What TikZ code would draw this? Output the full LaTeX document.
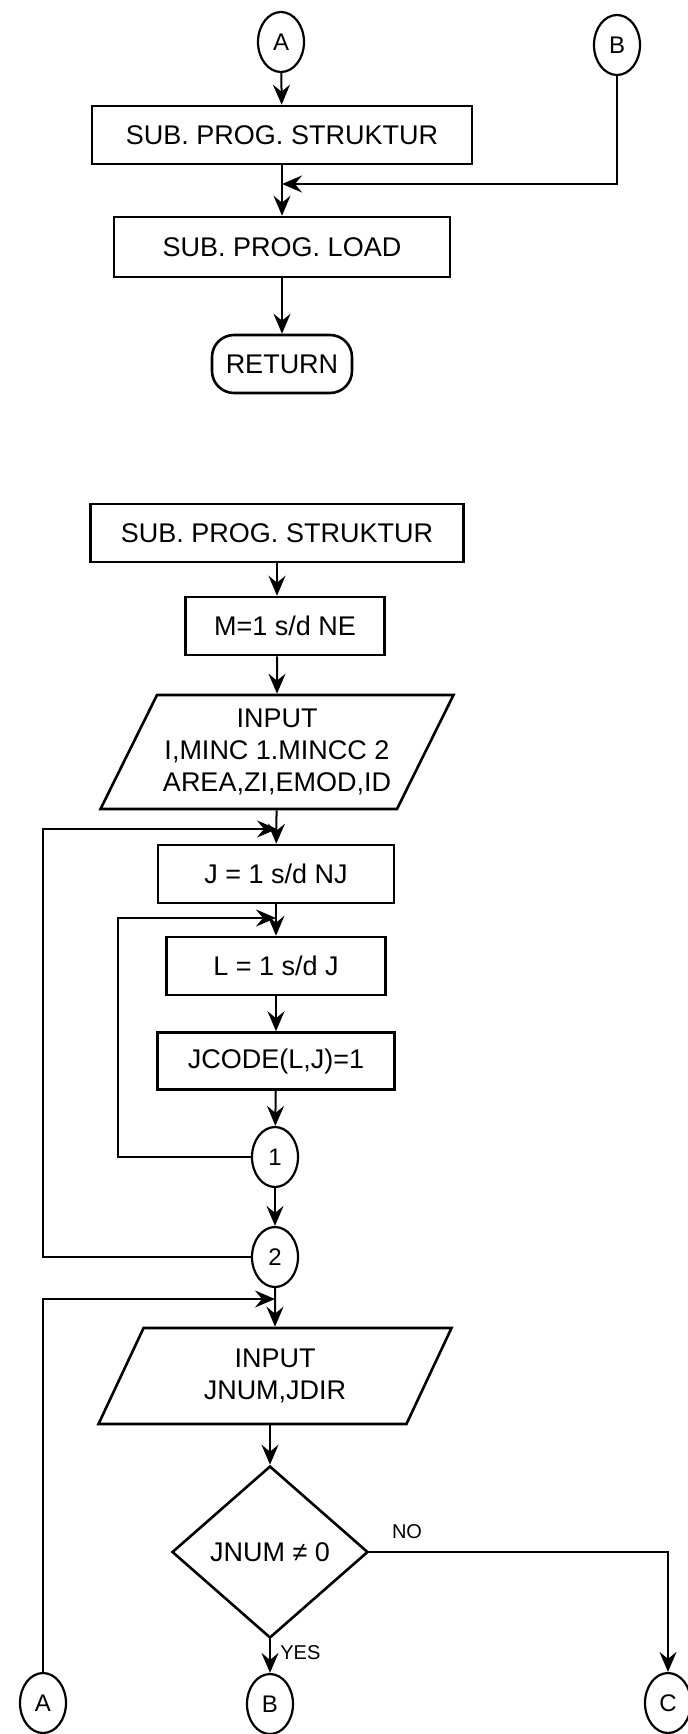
\documentclass[tikz,border=0pt]{standalone}
\usepackage{fontspec}
\setmainfont{Liberation Sans}
\usetikzlibrary{arrows.meta,shapes.geometric}

\begin{document}
\begin{tikzpicture}[x=0.5pt,y=-0.5pt,>={Stealth[length=10pt,width=8.5pt,inset=3.5pt]},
  caja/.style={draw,line width=1.3pt,minimum height=29pt,inner sep=2pt,font=\fontsize{13.5}{16}\selectfont},
  conector/.style={draw,ellipse,line width=1.1pt,minimum width=23pt,minimum height=30pt,inner sep=0pt,font=\fontsize{12}{14}\selectfont},
  entrada/.style={draw,trapezium,trapezium stretches body,line width=1.3pt,align=center,inner sep=2pt,font=\fontsize{13.5}{16}\selectfont},
  decision/.style={draw,diamond,line width=1.3pt,minimum width=98pt,minimum height=86pt,inner sep=0pt,font=\fontsize{13.5}{16}\selectfont},
  etiq/.style={font=\fontsize{10}{12}\selectfont,inner sep=1pt},
  flecha/.style={->,line width=1pt}]
  \useasboundingbox (0,0) rectangle (688,1734);
  % bloque principal
  \node[conector] (A1) at (281,42) {A};
  \node[conector] (B1) at (617,45) {B};
  \node[caja,minimum width=190pt] (S1) at (282,135) {SUB. PROG. STRUKTUR};
  \node[caja,minimum width=168pt,minimum height=30pt] (L1) at (282,247) {SUB. PROG. LOAD};
  \node[caja,minimum width=70pt,rounded corners=11pt] (R1) at (282,364) {RETURN};
  \coordinate (j1) at (282,184);
  \draw[flecha] (A1) -- (S1);
  \draw[flecha] (S1) -- (L1);
  \draw[flecha] (B1) |- (j1);
  \draw[flecha] (L1) -- (R1);
  % sub programa struktur
  \node[caja,minimum width=186.5pt] (S2) at (277,533) {SUB. PROG. STRUKTUR};
  \node[caja,minimum width=99.5pt] (M) at (285,626) {M=1 s/d NE};
  \node[entrada,trapezium left angle=59,trapezium right angle=121,minimum width=176.5pt,minimum height=57pt] (IN1) at (277,752)
    {INPUT\\I,MINC 1.MINCC 2\\AREA,ZI,EMOD,ID};
  \node[caja,minimum width=118pt] (J) at (276,874) {J = 1 s/d NJ};
  \node[caja,minimum width=109.5pt] (L) at (276,966) {L = 1 s/d J};
  \node[caja,minimum width=118.5pt,minimum height=28.5pt] (JC) at (276,1061) {JCODE(L,J)=1};
  \node[conector] (C1) at (275,1157) {1};
  \node[conector] (C2) at (275,1257) {2};
  \node[entrada,trapezium left angle=54,trapezium right angle=126,minimum width=176.5pt,minimum height=48pt] (IN2) at (275,1376)
    {INPUT\\JNUM,JDIR};
  \node[decision] (D) at (270,1552) {JNUM ≠ 0};
  \node[conector] (Ab) at (43,1703) {A};
  \node[conector] (Bb) at (270,1704) {B};
  \node[conector] (Cc) at (668,1703) {C};
  % lazos
  \coordinate (j2) at (277,829);
  \coordinate (k2) at (43,829);
  \coordinate (j3) at (276,918);
  \coordinate (k3) at (118,918);
  \coordinate (j4) at (275,1299);
  \draw[flecha] (S2) -- (S2 |- M.north);
  \draw[flecha] (M.south -| S2) -- (IN1);
  \draw[flecha] (IN1) -- (J);
  \draw[flecha] (J) -- (L);
  \draw[flecha] (L) -- (JC);
  \draw[flecha] (JC) -- (C1);
  \draw[flecha] (C1) -- (C2);
  \draw[flecha] (C2) -- (IN2);
  \draw[flecha] (IN2.south -| D.north) -- (D.north);
  \draw[flecha] (C1.west) -| (k3) -- (j3);
  \draw[flecha] (C2.west) -| (k2) -- (j2);
  \draw[flecha] (Ab) |- (j4);
  % salidas de la decision
  \draw[flecha] (D) -- (Bb);
  \draw[flecha] (D.east) -| (Cc);
  \node[etiq] (no) at (407,1532) {NO};
  \node[etiq,anchor=west] (yes) at (278,1653) {YES};
\end{tikzpicture}
\end{document}
